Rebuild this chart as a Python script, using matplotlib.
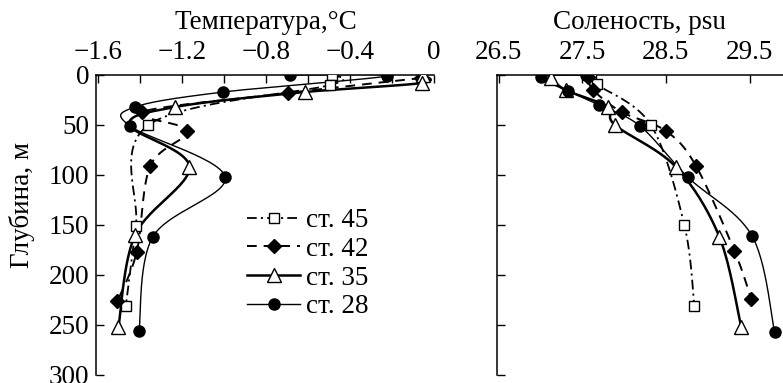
import numpy as np
import matplotlib
matplotlib.use("Agg")
import matplotlib.pyplot as plt
from matplotlib.lines import Line2D
from matplotlib import font_manager

names = sorted({f.name for f in font_manager.fontManager.ttflist})
serif_pref = [n for n in ['Liberation Serif', 'Times New Roman', 'Nimbus Roman',
                          'DejaVu Serif', 'Noto Serif'] if n in names]
plt.rcParams['font.family'] = 'serif'
plt.rcParams['font.serif'] = serif_pref + ['DejaVu Serif']
plt.rcParams['lines.scale_dashes'] = False
plt.rcParams['axes.unicode_minus'] = True

# ---------------- data ----------------
stations = ["ст. 45", "ст. 42", "ст. 35", "ст. 28"]

# Temperature panel
t45_depth = [0, 10, 50, 151, 231]
t45_temp = [-0.487, -0.495, -1.36, -1.42, -1.468]

t42_depth = [3, 18, 37, 56, 91, 177, 226]
t42_temp = [-0.06, -0.694, -1.392, -1.175, -1.352, -1.416, -1.508]

t35_depth = [0, 8, 17, 32, 50, 92, 160, 252]
t35_temp = [-0.051, -0.059, -0.614, -1.233, -1.45, -1.165, -1.424, -1.503]
t35_marked = [True, True, True, True, False, True, True, True]

t28_depth = [0, 1, 17, 32, 51, 102, 162, 256]
t28_temp = [-0.686, -0.225, -1.003, -1.424, -1.449, -0.995, -1.34, -1.405]

# Salinity panel
s45_depth = [0, 9, 50, 150, 231]
s45_sal = [27.61, 27.67, 28.32, 28.72, 28.84]

s42_depth = [2, 15, 37, 56, 91, 176, 224]
s42_sal = [27.57, 27.63, 27.97, 28.50, 28.86, 29.32, 29.52]

s35_depth = [3, 15, 32, 50, 92, 162, 252]
s35_sal = [27.13, 27.30, 27.81, 27.89, 28.62, 29.14, 29.40]

s28_depth = [0, 2, 16, 30, 51, 102, 161, 257]
s28_sal = [27.55, 27.01, 27.33, 27.70, 28.19, 28.76, 29.53, 29.80]

temp_ticks = [-1.6, -1.2, -0.8, -0.4, 0]
temp_ticklabels = ["\u22121.6", "\u22121.2", "\u22120.8", "\u22120.4", "0"]
sal_ticks = [26.5, 27.5, 28.5, 29.5]
depth_ticks = [0, 50, 100, 150, 200, 250, 300]

# ---------------- styles ----------------
styles = [
    dict(color='black', lw=1.3, dashes=(7, 3, 1.5, 3), marker='s', ms=7,
         mfc='white', mec='black', mew=1.0),
    dict(color='black', lw=1.4, dashes=(7, 5), marker='D', ms=7,
         mfc='black', mec='black', mew=1.0),
    dict(color='black', lw=1.8, dashes=None, marker='^', ms=10,
         mfc='white', mec='black', mew=1.0),
    dict(color='black', lw=1.0, dashes=None, marker='o', ms=8,
         mfc='black', mec='black', mew=1.0),
]


def catmull_rom(x, y, n=30):
    pts = np.column_stack([x, y]).astype(float)
    P = np.vstack([pts[0], pts, pts[-1]])
    out = []
    t = np.linspace(0, 1, n)[:, None]
    for i in range(len(pts) - 1):
        p0, p1, p2, p3 = P[i], P[i + 1], P[i + 2], P[i + 3]
        seg = 0.5 * ((2 * p1) + (-p0 + p2) * t
                     + (2 * p0 - 5 * p1 + 4 * p2 - p3) * t ** 2
                     + (-p0 + 3 * p1 - 3 * p2 + p3) * t ** 3)
        out.append(seg if i == 0 else seg[1:])
    out = np.vstack(out)
    return out[:, 0], out[:, 1]


def draw(ax, xs, ys, st, marked=None):
    cx, cy = catmull_rom(xs, ys)
    line, = ax.plot(cx, cy, color=st['color'], lw=st['lw'],
                    solid_capstyle='butt')
    if st['dashes'] is not None:
        line.set_dashes(st['dashes'])
    xs = np.asarray(xs)
    ys = np.asarray(ys)
    if marked is not None:
        m = np.asarray(marked)
        xs, ys = xs[m], ys[m]
    ax.plot(xs, ys, ls='none', marker=st['marker'], ms=st['ms'],
            mfc=st['mfc'], mec=st['mec'], mew=st['mew'], zorder=3)


fig = plt.figure(figsize=(7.83, 3.83), dpi=100)
H = 383.0
W = 783.0
ax1 = fig.add_axes([96 / W, 1 - 375 / H, (434 - 96) / W, 300 / H])
ax2 = fig.add_axes([497 / W, 1 - 375 / H, (783 - 497) / W, 300 / H])

temp_data = [(t45_temp, t45_depth, None), (t42_temp, t42_depth, None),
             (t35_temp, t35_depth, t35_marked), (t28_temp, t28_depth, None)]
sal_data = [(s45_sal, s45_depth), (s42_sal, s42_depth),
            (s35_sal, s35_depth), (s28_sal, s28_depth)]

for (x, y, mk), st in zip(temp_data, styles):
    draw(ax1, x, y, st, mk)
for (x, y), st in zip(sal_data, styles):
    draw(ax2, x, y, st)

FS = 19.5
for ax in (ax1, ax2):
    ax.set_ylim(300, 0)
    ax.spines['right'].set_visible(False)
    ax.spines['bottom'].set_visible(False)
    for s in ('left', 'top'):
        ax.spines[s].set_linewidth(1.1)
    ax.xaxis.set_ticks_position('top')
    ax.set_yticks(depth_ticks)
    ax.tick_params(axis='both', direction='in', length=6, width=1.0,
                   labelsize=FS, pad=5)
    ax.tick_params(axis='x', pad=7)
    ax.tick_params(axis='y', right=False, left=True)

ax1.set_xlim(-1.61, 0)
ax1.set_xticks(temp_ticks)
ax1.set_xticklabels(temp_ticklabels)
ax1.set_xticks(np.arange(-1.4, 0.0, 0.4), minor=True)
ax1.tick_params(axis='x', which='minor', direction='in', length=6, width=1.0,
                top=True, bottom=False)
ax1.set_yticklabels([str(v) for v in depth_ticks])

ax2.set_xlim(26.48, 29.9)
ax2.set_xticks(sal_ticks)
ax2.set_xticklabels([str(v) for v in sal_ticks])
ax2.set_yticklabels([])

fig.text(266 / W, 1 - 29 / H, "Температура,°C", ha='center', va='baseline',
         fontsize=FS)
fig.text(639 / W, 1 - 29 / H, "Соленость, psu", ha='center', va='baseline',
         fontsize=FS)
fig.text(22 / W, 1 - 205 / H, "Глубина, м", ha='center', va='center',
         rotation=90, fontsize=FS)

handles = []
for st in styles:
    h = Line2D([], [], color='black', lw=st['lw'], marker=st['marker'],
               ms=st['ms'], mfc=st['mfc'], mec=st['mec'], mew=st['mew'])
    if st['dashes'] is not None:
        h.set_dashes(st['dashes'])
    handles.append(h)
ax1.legend(handles, stations, loc='upper left',
           bbox_to_anchor=((247 - 96) / 338, (375 - 208) / 300),
           frameon=False, fontsize=FS, handlelength=1.96, handletextpad=0.22,
           labelspacing=0.14, borderpad=0, borderaxespad=0)

fig.savefig("out.png", dpi=100)
